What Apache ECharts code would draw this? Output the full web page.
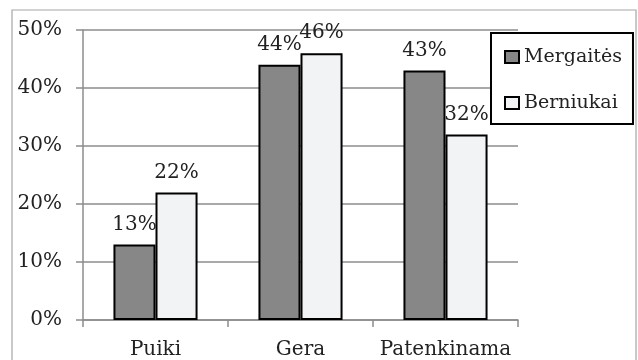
<!DOCTYPE html>
<html>
<head>
<meta charset="utf-8">
<script src="https://cdn.jsdelivr.net/npm/echarts@6/dist/echarts.min.js"></script>
<style>
  html, body { margin: 0; padding: 0; background: #fff; }
  #chart { width: 638px; height: 360px; }
</style>
</head>
<body>
<div id="chart"></div>
<script>
// Grade distribution by group, in percent
const categories = ['Puiki', 'Gera', 'Patenkinama'];
const seriesNames = ['Mergaitės', 'Berniukai'];
const girls = [13, 44, 43];
const boys = [22, 46, 32];
const yTicks = [0, 10, 20, 30, 40, 50];

const FONT = 'DejaVu Serif';
const FS = 20;
const TEXT = '#222';
const AXIS = '#8c8c8c';

const chart = echarts.init(document.getElementById('chart'), null, { renderer: 'canvas' });

const labelStyle = {
  show: true,
  position: 'top',
  distance: 10,
  formatter: '{c}%',
  fontFamily: FONT,
  fontSize: FS,
  color: TEXT
};

chart.setOption({
  animation: false,
  backgroundColor: '#fff',
  graphic: [{
    type: 'rect',
    shape: { x: 12, y: 10, width: 624, height: 370 },
    style: { fill: 'none', stroke: '#a6a6a6', lineWidth: 1.2 },
    silent: true
  }],
  grid: { left: 83, right: 120, top: 30, bottom: 38, containLabel: false },
  legend: {
    orient: 'vertical',
    left: 491,
    top: 33,
    data: seriesNames,
    icon: 'rect',
    itemWidth: 14,
    itemHeight: 12,
    itemGap: 22,
    padding: [12, 11, 9, 13],
    borderColor: '#000',
    borderWidth: 2,
    backgroundColor: '#fff',
    textStyle: { fontFamily: FONT, fontSize: 19, color: TEXT, lineHeight: 24 }
  },
  xAxis: {
    type: 'category',
    data: categories,
    axisLine: { lineStyle: { color: AXIS, width: 1.5 } },
    axisTick: { show: true, length: 7, lineStyle: { color: AXIS, width: 1.5 } },
    axisLabel: { interval: 0, margin: 20, fontFamily: FONT, fontSize: FS, color: TEXT }
  },
  yAxis: {
    type: 'value',
    min: yTicks[0],
    max: yTicks[yTicks.length - 1],
    interval: 10,
    axisLine: { show: true, lineStyle: { color: AXIS, width: 1.5 } },
    axisTick: { show: true, length: 7, lineStyle: { color: AXIS, width: 1.5 } },
    splitLine: { show: true, lineStyle: { color: AXIS, width: 1.5 } },
    axisLabel: { margin: 21, formatter: '{value}%', fontFamily: FONT, fontSize: FS, color: TEXT }
  },
  series: [
    {
      name: seriesNames[0],
      type: 'bar',
      data: girls,
      barGap: '0%',
      barCategoryGap: '42%',
      itemStyle: { color: '#878787', borderColor: '#000', borderWidth: 2 },
      label: labelStyle
    },
    {
      name: seriesNames[1],
      type: 'bar',
      data: boys,
      itemStyle: { color: '#f2f3f5', borderColor: '#000', borderWidth: 2 },
      label: labelStyle
    }
  ]
});
</script>
</body>
</html>
